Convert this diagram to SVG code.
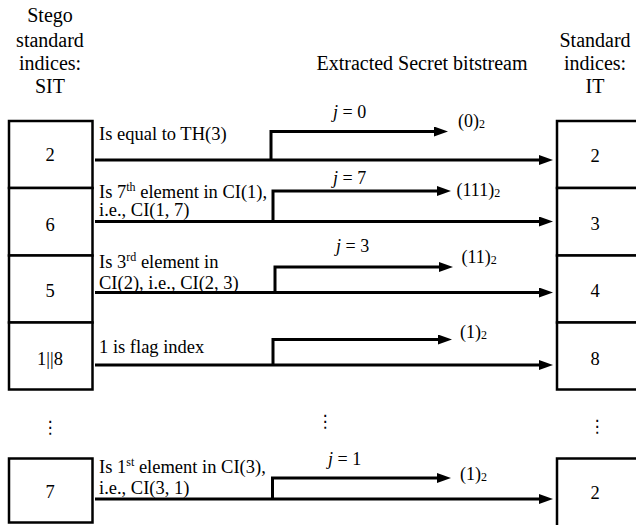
<svg xmlns="http://www.w3.org/2000/svg" width="636" height="525" viewBox="0 0 636 525">
<defs>
<style>
text{font-family:"Liberation Serif","Times New Roman",serif;fill:#000}
.h{font-size:20px;text-anchor:middle}
.n{font-size:18.5px;text-anchor:middle}
.l{font-size:18.5px}
.j{font-size:18px}
.sup{font-size:12px}
.sub{font-size:12px}
.dots{font-family:"DejaVu Sans",sans-serif;font-size:17px;text-anchor:middle}
.box{fill:#fff;stroke:#000;stroke-width:2.5}
.ln{fill:none;stroke:#000;stroke-width:3;marker-end:url(#ah)}
</style>
<marker id="ah" markerUnits="userSpaceOnUse" viewBox="0 0 14 10" markerWidth="14" markerHeight="10" refX="2" refY="5" orient="auto">
<path d="M0,0 L14,5 L0,10 z" fill="#000"/>
</marker>
</defs>

<g id="headers">
<text class="h" x="50" y="21.5">Stego</text>
<text class="h" x="50" y="46.5">standard</text>
<text class="h" x="50" y="69.5">indices:</text>
<text class="h" x="50" y="92.5">SIT</text>
<text class="h" x="422" y="69.5">Extracted Secret bitstream</text>
<text class="h" x="595" y="47">Standard</text>
<text class="h" x="595" y="69.5">indices:</text>
<text class="h" x="595" y="92.5">IT</text>
</g>

<g id="sit">
<g id="sit1"><rect class="box" x="9" y="121" width="83.5" height="67"/><text class="n" x="50" y="161">2</text></g>
<g id="sit2"><rect class="box" x="9" y="188" width="83.5" height="67.5"/><text class="n" x="50" y="231">6</text></g>
<g id="sit3"><rect class="box" x="9" y="255.5" width="83.5" height="67"/><text class="n" x="50" y="297">5</text></g>
<g id="sit4"><rect class="box" x="9" y="322.5" width="83.5" height="67"/><text class="n" x="50" y="365">1||8</text></g>
<g id="sit5"><rect class="box" x="9" y="458.5" width="83.5" height="64"/><text class="n" x="50" y="498">7</text></g>
<text class="dots" x="50" y="433">⋮</text>
</g>

<g id="it">
<g id="it1"><rect class="box" x="557" y="121" width="90" height="67"/><text class="n" x="595" y="162">2</text></g>
<g id="it2"><rect class="box" x="557" y="188" width="90" height="67.5"/><text class="n" x="595" y="230">3</text></g>
<g id="it3"><rect class="box" x="557" y="255.5" width="90" height="67"/><text class="n" x="595" y="297">4</text></g>
<g id="it4"><rect class="box" x="557" y="322.5" width="90" height="67"/><text class="n" x="595" y="364.5">8</text></g>
<g id="it5"><rect class="box" x="557" y="458.5" width="90" height="70"/><text class="n" x="595" y="498.5">2</text></g>
<text class="dots" x="597" y="432">⋮</text>
</g>

<g id="connectors">
<path class="ln" d="M95,160 H541"/>
<path class="ln" d="M271,160 V131.5 H436"/>
<path class="ln" d="M95,221.5 H541"/>
<path class="ln" d="M273,221.5 V191 H439"/>
<path class="ln" d="M95,292.5 H541"/>
<path class="ln" d="M275,292.5 V267 H441"/>
<path class="ln" d="M95,365 H541"/>
<path class="ln" d="M273,365 V339.5 H440"/>
<path class="ln" d="M95,499 H541"/>
<path class="ln" d="M272.5,499 V478 H439"/>
</g>

<g id="labels">
<text class="l" x="99" y="140">Is equal to TH(3)</text>
<text class="l" x="99" y="198">Is 7<tspan class="sup" dy="-7">th</tspan><tspan dy="7"> element in CI(1),</tspan></text>
<text class="l" x="99" y="215.5">i.e., CI(1, 7)</text>
<text class="l" x="99" y="268">Is 3<tspan class="sup" dy="-7">rd</tspan><tspan dy="7"> element in</tspan></text>
<text class="l" x="99" y="289">CI(2), i.e., CI(2, 3)</text>
<text class="l" x="99" y="353">1 is flag index</text>
<text class="l" x="99" y="472.5">Is 1<tspan class="sup" dy="-7">st</tspan><tspan dy="7"> element in CI(3),</tspan></text>
<text class="l" x="99" y="493.5">i.e., CI(3, 1)</text>

<text class="j" x="333" y="117.5"><tspan font-style="italic">j</tspan> = 0</text>
<text class="j" x="333" y="184"><tspan font-style="italic">j</tspan> = 7</text>
<text class="j" x="336" y="251.5"><tspan font-style="italic">j</tspan> = 3</text>
<text class="j" x="328" y="465"><tspan font-style="italic">j</tspan> = 1</text>

<text class="j" x="458" y="126.5">(0)<tspan class="sub" dy="1">2</tspan></text>
<text class="j" x="456.5" y="196">(111)<tspan class="sub" dy="1">2</tspan></text>
<text class="j" x="461.5" y="263">(11)<tspan class="sub" dy="1">2</tspan></text>
<text class="j" x="460" y="337.5">(1)<tspan class="sub" dy="1">2</tspan></text>
<text class="j" x="460" y="480">(1)<tspan class="sub" dy="1">2</tspan></text>

<text class="dots" x="325" y="427">⋮</text>
</g>
</svg>
